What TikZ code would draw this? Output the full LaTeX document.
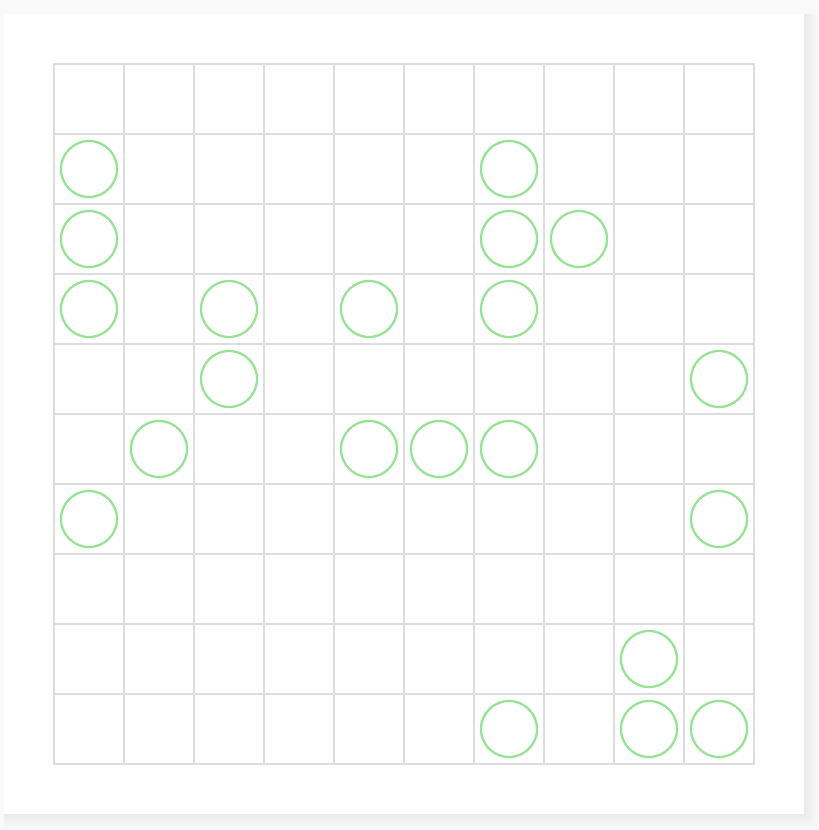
\documentclass[tikz,border=0pt]{standalone}
\usetikzlibrary{positioning}
\definecolor{pagebg}{HTML}{F9F9F9}
\definecolor{gridline}{HTML}{DDDDDD}
\definecolor{stonegreen}{HTML}{96E394}
\tikzset{
  stone/.style={circle,draw=stonegreen,line width=1.6pt,minimum size=1.4cm,inner sep=0pt},
  cellline/.style={draw=gridline,line width=.9pt}
}
\begin{document}
\begin{tikzpicture}[x=.025cm,y=-.025cm]
\useasboundingbox (0,0) rectangle (818,830);
\fill[pagebg] (0,0) rectangle (818,830);
% soft card shadow.
\foreach \o in {14,12,...,2}{
  \fill[black,opacity=.008] (4,14) rectangle (804+\o,814+\o);
}
\fill[white] (4,14) rectangle (804,814);
% 10x10 board.
\foreach \a in {0,...,9}{\foreach \b in {0,...,9}{\draw[cellline] (54+70*\b,64+70*\a) rectangle +(70,70);}}
% stones, given as column/row.
\foreach \c/\r in {0/1,6/1,0/2,6/2,7/2,0/3,2/3,4/3,6/3,2/4,9/4,1/5,4/5,5/5,6/5,0/6,9/6,8/8,6/9,8/9,9/9}{
  \node[stone] (s-\r-\c) at (89+70*\c,99+70*\r) {};
}
\end{tikzpicture}
\end{document}
